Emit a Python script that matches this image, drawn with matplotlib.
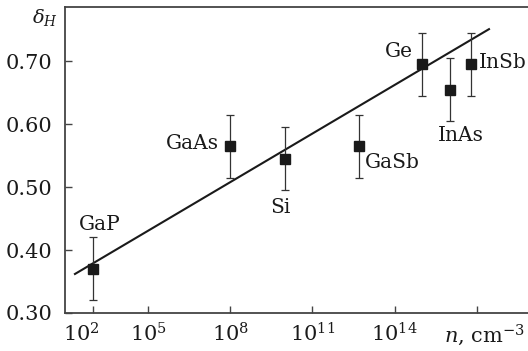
import matplotlib
matplotlib.use('Agg')
import matplotlib.pyplot as plt
import numpy as np
from matplotlib.ticker import FixedLocator, FixedFormatter, NullLocator
from matplotlib.transforms import ScaledTranslation

plt.rcParams['font.family'] = ['DejaVu Serif']
plt.rcParams['mathtext.fontset'] = 'dejavuserif'

# Hall-factor data for the semiconductors
materials = ['GaP', 'GaAs', 'Si', 'GaSb', 'Ge', 'InAs', 'InSb']
n_carriers = [1e2, 1e8, 1e10, 5e12, 1e15, 1e16, 6e16]
delta_h = [0.37, 0.565, 0.545, 0.565, 0.695, 0.655, 0.695]
delta_err = [0.05, 0.05, 0.05, 0.05, 0.05, 0.05, 0.05]

# fitted straight line (two end points)
fit_n = [1e1, 2.75e17]
fit_delta = [0.362, 0.751]

x_ticks = [1e2, 1e5, 1e8, 1e11, 1e14, 1e17]
x_tick_labels = [r'$10^{2}$', r'$10^{5}$', r'$10^{8}$', r'$10^{11}$', r'$10^{14}$', '']
y_ticks = [0.30, 0.40, 0.50, 0.60, 0.70]

# label offsets in points (dx, dy, ha)
label_offsets = [(5, 32, 'center'), (-8, 2, 'right'), (-3, -35, 'center'),
                 (4, -12, 'left'), (-7, 9, 'right'), (8, -33, 'center'),
                 (6, 1.5, 'left')]

INK = '#1a1a1a'


def fwd(n):
    # log axis, with the first decades (below 1e5) compressed by 2/3
    lg = np.log10(np.maximum(np.asarray(n, dtype=float), 1e-300))
    return np.where(lg >= 5, lg, 5 - (5 - lg) * 2.0 / 3.0)


def inv(u):
    u = np.asarray(u, dtype=float)
    lg = np.where(u >= 5, u, 5 - (5 - u) * 1.5)
    return 10.0 ** lg


fig = plt.figure(figsize=(5.28, 3.51), dpi=100)
ax = fig.add_axes([65 / 528, 38 / 351, 495 / 528, 306.5 / 351])
ax.set_xscale('function', functions=(fwd, inv))

ax.plot(fit_n, fit_delta, color=INK, linewidth=1.5, zorder=2)
ax.errorbar(n_carriers, delta_h, yerr=delta_err, fmt='s', color=INK,
            markersize=7.5, elinewidth=0.9, capsize=3, capthick=0.9,
            ecolor='#333333', zorder=3)

for name, x, y, (dx, dy, ha) in zip(materials, n_carriers, delta_h, label_offsets):
    ax.annotate(name, (x, y), xytext=(dx, dy), textcoords='offset points',
                ha=ha, va='center', fontsize=14.5, color=INK)

ax.set_xlim(inv(1.97), inv(20.03))
ax.set_ylim(0.30, 0.787)

ax.xaxis.set_major_locator(FixedLocator(x_ticks))
ax.xaxis.set_major_formatter(FixedFormatter(x_tick_labels))
ax.xaxis.set_minor_locator(NullLocator())
ax.set_yticks(y_ticks)
ax.set_yticklabels([f'{v:.2f}' for v in y_ticks])

ax.tick_params(direction='in', length=5, width=1, color='#444444',
               labelsize=15, labelcolor=INK)
ax.tick_params(axis='y', pad=9)
ax.tick_params(axis='x', pad=7)

for side in ('left', 'bottom', 'top'):
    ax.spines[side].set_linewidth(1.3)
    ax.spines[side].set_color('#444444')
ax.spines['right'].set_visible(False)

# first label sits a little left of its tick
lab0 = ax.get_xticklabels()[0]
lab0.set_transform(lab0.get_transform() + ScaledTranslation(-12 / 100, 0, fig.dpi_scale_trans))

ax.text(inv(15.8), -0.072, r'$n$, cm$^{-3}$', transform=ax.get_xaxis_transform(),
        ha='left', va='center', fontsize=15, color=INK)
fig.text(32 / 528, 1 - 18 / 351, r'$\delta_H$', ha='left', va='center',
         fontsize=14, color=INK)

fig.savefig('out.png', dpi=100)
